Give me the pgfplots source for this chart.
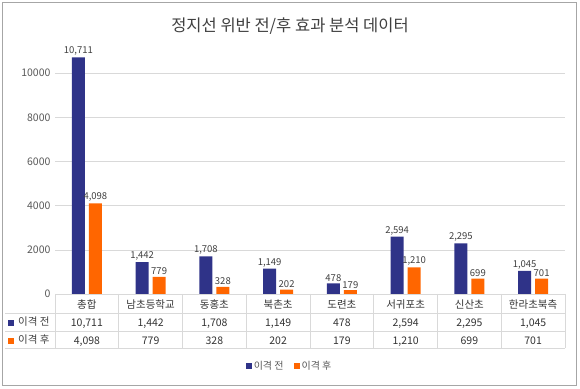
\documentclass[border=0pt]{standalone}
\usepackage{pgfplots}
\pgfplotsset{compat=1.18}
\usepackage{fontspec}
\setmainfont{Noto Sans CJK KR}
\definecolor{navyb}{RGB}{47,51,136}
\definecolor{orangeb}{RGB}{255,102,0}
\definecolor{txt}{RGB}{64,64,64}
\definecolor{tick}{RGB}{89,89,89}
\definecolor{gridc}{RGB}{217,217,217}
\begin{document}
\begin{tikzpicture}[x=1pt,y=1pt]
\useasboundingbox (0,0) rectangle (580,388);
\draw[gray!70, line width=0.8pt] (2,3) rectangle (576,386);
\node[font=\fontsize{16.5}{20}\selectfont, text=txt] at (290,362) {정지선 위반 전/후 효과 분석 데이터};
\begin{axis}[
  at={(55pt,94pt)}, anchor=south west,
  scale only axis, width=510pt, height=254pt,
  ymin=0, ymax=11500, xmin=-0.5, xmax=7.5,
  ytick={0,2000,4000,6000,8000,10000},
  scaled y ticks=false,
  xtick={0,1,2,3,4,5,6,7},
  xticklabels={{총합\\10,711\\4,098},{남초등학교\\1,442\\779},{동홍초\\1,708\\328},{북촌초\\1,149\\202},{도련초\\478\\179},{서귀포초\\2,594\\1,210},{신산초\\2,295\\699},{한라초북측\\1,045\\701}},
  xticklabel style={align=center, anchor=north, yshift=-2pt, font=\fontsize{10.5}{18}\selectfont, text=black!80},
  yticklabel style={font=\fontsize{10.5}{12}\selectfont, text=tick, /pgf/number format/1000 sep={}, xshift=-1pt},
  /pgf/number format/assume math mode=true,
  ymajorgrids, grid style={gridc, line width=0.6pt},
  axis line style={draw=none},
  major tick length=0pt,
  ybar=4pt, bar width=13pt,
  nodes near coords={\pgfmathprintnumber[1000 sep={,}]{\pgfplotspointmeta}},
  nodes near coords style={font=\fontsize{9.5}{11}\selectfont, text=txt, inner sep=1.5pt},
  legend style={at={(0.46,-0.283)}, anchor=center, draw=none, fill=none, legend columns=2,
    font=\fontsize{10}{12}\selectfont, text=tick, /tikz/every even column/.append style={column sep=8pt}},
  legend image code/.code={\fill[#1] (-2pt,-3pt) rectangle (4pt,3pt);},
]
\addplot[fill=navyb, draw=none] coordinates {(0,10711) (1,1442) (2,1708) (3,1149) (4,478) (5,2594) (6,2295) (7,1045)};
\addlegendentry{이격 전}
\addplot[fill=orangeb, draw=none] coordinates {(0,4098) (1,779) (2,328) (3,202) (4,179) (5,1210) (6,699) (7,701)};
\addlegendentry{이격 후}
\end{axis}
% data table grid
\draw[gridc, line width=0.6pt] (55,94) -- (565,94);
\draw[gridc, line width=0.6pt] (5,75) -- (565,75);
\draw[gridc, line width=0.6pt] (5,57) -- (565,57);
\draw[gridc, line width=0.6pt] (5,40) -- (565,40);
\foreach \k in {0,...,8} {\draw[gridc, line width=0.6pt] (55+\k*63.75,94) -- (55+\k*63.75,40);}
\node[anchor=west, font=\fontsize{10.5}{12}\selectfont, text=txt, inner sep=0pt] at (8,66) {\textcolor{navyb}{\rule{6pt}{6pt}}\hspace{4pt}이격 전};
\node[anchor=west, font=\fontsize{10.5}{12}\selectfont, text=txt, inner sep=0pt] at (8,48) {\textcolor{orangeb}{\rule{6pt}{6pt}}\hspace{4pt}이격 후};
\end{tikzpicture}
\end{document}
